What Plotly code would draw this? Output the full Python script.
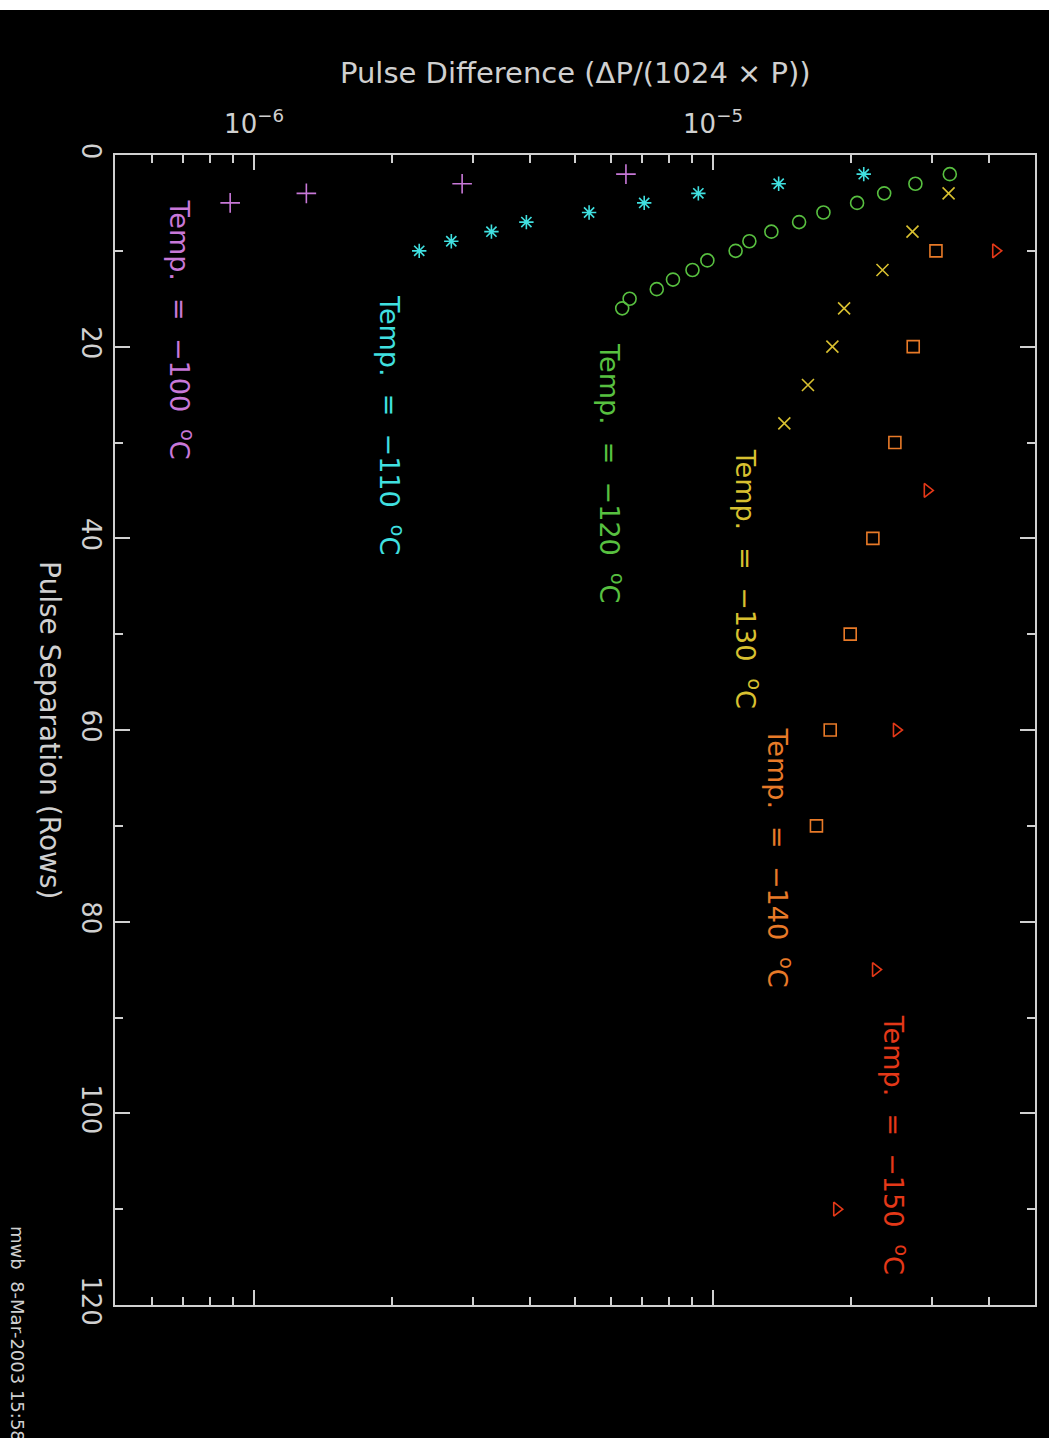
import plotly.graph_objects as go

# ---- data ----
temps = ["−100", "−110", "−120", "−130", "−140", "−150"]

rows_m100 = [2, 3, 4, 5]
diff_m100 = [6.46e-6, 2.84e-6, 1.30e-6, 8.87e-7]

rows_m110 = [2, 3, 4, 5, 6, 7, 8, 9, 10]
diff_m110 = [2.13e-5, 1.39e-5, 9.29e-6, 7.08e-6, 5.37e-6, 3.92e-6, 3.29e-6, 2.69e-6, 2.29e-6]

rows_m120 = [2, 3, 4, 5, 6, 7, 8, 9, 10, 11, 12, 13, 14, 15, 16]
diff_m120 = [3.28e-5, 2.76e-5, 2.36e-5, 2.06e-5, 1.74e-5, 1.54e-5, 1.34e-5, 1.20e-5,
             1.12e-5, 9.72e-6, 9.02e-6, 8.18e-6, 7.54e-6, 6.58e-6, 6.34e-6]

rows_m130 = [4, 8, 12, 16, 20, 24, 28]
diff_m130 = [3.26e-5, 2.72e-5, 2.34e-5, 1.93e-5, 1.82e-5, 1.61e-5, 1.43e-5]

rows_m140 = [10, 20, 30, 40, 50, 60, 70]
diff_m140 = [3.06e-5, 2.73e-5, 2.49e-5, 2.23e-5, 1.99e-5, 1.80e-5, 1.68e-5]

rows_m150 = [10, 35, 60, 85, 110]
diff_m150 = [4.13e-5, 2.93e-5, 2.51e-5, 2.26e-5, 1.86e-5]

x_major = [1e-6, 1e-5]
x_major_text = ["10<sup>−6</sup>", "10<sup>−5</sup>"]
x_minor = [6e-7, 7e-7, 8e-7, 9e-7, 2e-6, 3e-6, 4e-6, 5e-6, 6e-6, 7e-6, 8e-6, 9e-6,
           2e-5, 3e-5, 4e-5]
y_major = [0, 20, 40, 60, 80, 100, 120]

# label positions (log10 x, rows)
label_x = [-6.157, -5.699, -5.220, -4.924, -4.854, -4.603]
label_y = [18.2, 28.2, 33.2, 44.2, 73.3, 103.3]

colors = ["#c878d8", "#40e0e0", "#58c040", "#d8c030", "#e87a28", "#e43818"]
symbols = ["cross-thin-open", "asterisk-open", "circle-open", "x-thin-open",
           "square-open", "triangle-right-open"]
sizes = [14, 12, 13, 12, 12, 12]

series = [(rows_m100, diff_m100), (rows_m110, diff_m110), (rows_m120, diff_m120),
          (rows_m130, diff_m130), (rows_m140, diff_m140), (rows_m150, diff_m150)]

AX = "#d0d0d0"
FONT = "DejaVu Sans"
NB = "\u00a0"

fig = go.Figure()
for (r, d), c, s, sz, t in zip(series, colors, symbols, sizes, temps):
    fig.add_trace(go.Scatter(
        x=d, y=r, mode="markers", name=t,
        marker=dict(symbol=s, size=sz, color=c, line=dict(color=c, width=1.6)),
        showlegend=False))

W, H = 1049, 1438
L, R, T, B = 115, 14, 155, 133
pw, ph = W - L - R, H - T - B


def px(xp):
    return (xp - L) / pw


def py(yp):
    return (H - B - yp) / ph


fig.update_layout(
    width=W, height=H,
    paper_bgcolor="black", plot_bgcolor="black",
    margin=dict(l=L, r=R, t=T, b=B),
    font=dict(family=FONT, color=AX),
    xaxis=dict(
        type="log", range=[-6.303, -4.2985], side="top",
        showgrid=False, zeroline=False,
        showline=True, linecolor=AX, linewidth=2, mirror="allticks",
        ticks="inside", ticklen=15, tickwidth=2, tickcolor=AX,
        tickmode="array", tickvals=x_major, ticktext=x_major_text,
        ticklabelstandoff=10,
        tickfont=dict(size=26, color=AX, family=FONT),
        minor=dict(tickmode="array", tickvals=x_minor, ticks="inside",
                   ticklen=8, tickwidth=2, tickcolor=AX, showgrid=False),
    ),
    yaxis=dict(
        range=[120, 0], showgrid=False, zeroline=False,
        showline=True, linecolor=AX, linewidth=2, mirror="allticks",
        ticks="inside", ticklen=15, tickwidth=2, tickcolor=AX,
        tickmode="array", tickvals=y_major, tickangle=90,
        tickfont=dict(size=26, color=AX, family=FONT),
        minor=dict(dtick=10, tick0=0, ticks="inside", ticklen=8, tickwidth=2,
                   tickcolor=AX, showgrid=False),
    ),
)

annotations = []
for t, c, lx, ly in zip(temps, colors, label_x, label_y):
    annotations.append(dict(
        x=lx, y=ly, xref="x", yref="y", showarrow=False, textangle=90,
        xanchor="center", yanchor="middle",
        text=f"Temp.{NB}{NB}={NB}{NB}{t}{NB}{NB}<sup>o</sup>C",
        font=dict(size=27, color=c, family=FONT)))

annotations.append(dict(
    x=px(575), y=py(73), xref="paper", yref="paper", showarrow=False,
    xanchor="center", yanchor="middle",
    text="Pulse Difference (ΔP/(1024 × P))",
    font=dict(size=29, color=AX, family=FONT)))
annotations.append(dict(
    x=px(50), y=py(730), xref="paper", yref="paper", showarrow=False, textangle=90,
    xanchor="center", yanchor="middle",
    text="Pulse Separation (Rows)",
    font=dict(size=28, color=AX, family=FONT)))
annotations.append(dict(
    x=px(18), y=py(1224), xref="paper", yref="paper", showarrow=False, textangle=90,
    xanchor="center", yanchor="top", text=f"mwb{NB}{NB}8-Mar-2003{NB}15:58",
    font=dict(size=18, color=AX, family=FONT)))
fig.update_layout(annotations=annotations)

fig.add_shape(type="rect", xref="paper", yref="paper",
              x0=px(0), x1=px(W), y0=py(10), y1=py(0),
              fillcolor="white", line=dict(width=0), layer="above")

fig.write_html("out.html", config={"displayModeBar": False},
               post_script="document.body.style.margin='0';document.body.style.overflow='hidden';")
